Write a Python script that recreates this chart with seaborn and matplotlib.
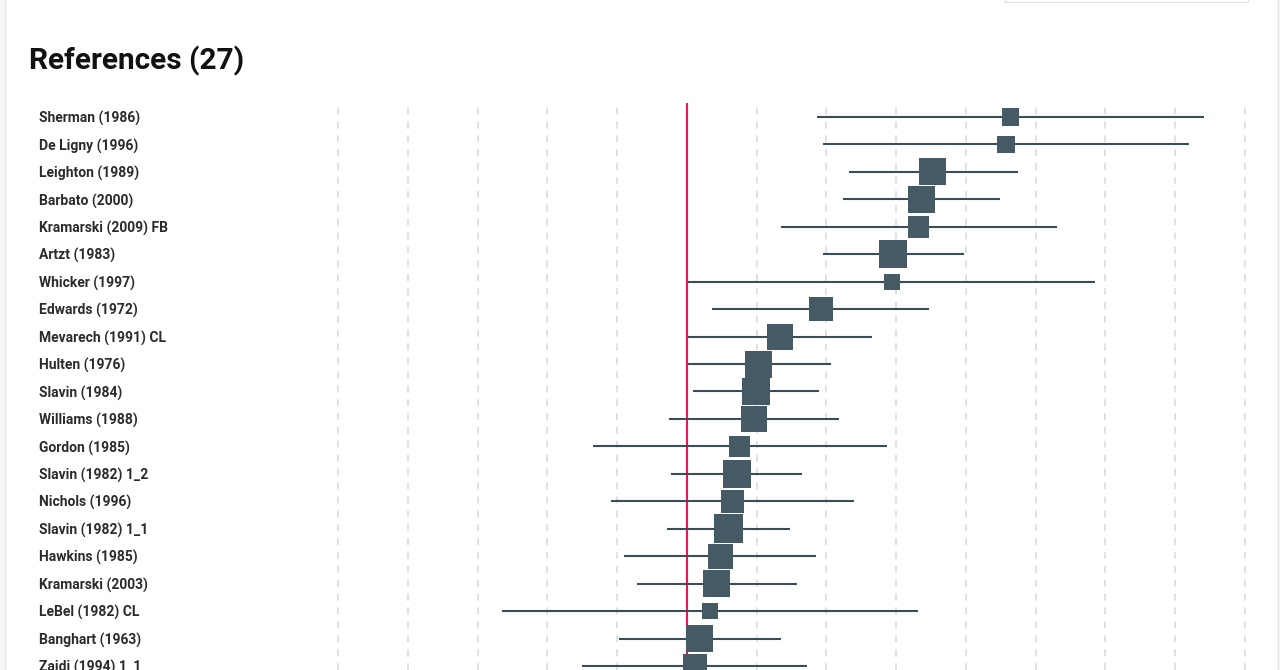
import matplotlib
matplotlib.use("Agg")
import matplotlib.pyplot as plt
import seaborn as sns
import pandas as pd
from matplotlib.patches import Rectangle

# Forest plot data (effect size with confidence interval, study weight)
studies = [
    "Sherman (1986)", "De Ligny (1996)", "Leighton (1989)", "Barbato (2000)",
    "Kramarski (2009) FB", "Artzt (1983)", "Whicker (1997)", "Edwards (1972)",
    "Mevarech (1991) CL", "Hulten (1976)", "Slavin (1984)", "Williams (1988)",
    "Gordon (1985)", "Slavin (1982) 1_2", "Nichols (1996)", "Slavin (1982) 1_1",
    "Hawkins (1985)", "Kramarski (2003)", "LeBel (1982) CL", "Banghart (1963)",
    "Zaidi (1994) 1_1",
]
effect = [0.928, 0.915, 0.705, 0.672, 0.664, 0.591, 0.588, 0.384, 0.267, 0.205,
          0.198, 0.192, 0.151, 0.143, 0.130, 0.119, 0.096, 0.085, 0.066, 0.036, 0.023]
ci_low = [0.373, 0.390, 0.465, 0.447, 0.270, 0.390, 0.003, 0.072, 0.003, 0.003,
          0.017, -0.052, -0.270, -0.046, -0.218, -0.057, -0.181, -0.143, -0.530, -0.195, -0.301]
ci_high = [1.482, 1.439, 0.949, 0.897, 1.061, 0.794, 1.170, 0.694, 0.530, 0.413,
           0.378, 0.436, 0.573, 0.330, 0.479, 0.295, 0.370, 0.315, 0.662, 0.270, 0.344]
weight = [2.9, 3.2, 7.3, 7.3, 4.6, 7.8, 2.6, 5.8, 6.8, 7.3,
          7.8, 6.8, 4.4, 7.8, 5.3, 8.4, 6.3, 7.3, 2.6, 7.3, 5.8]
grid_ticks = [-1.0, -0.8, -0.6, -0.4, -0.2, 0.0, 0.2, 0.4, 0.6, 0.8, 1.0, 1.2, 1.4, 1.6]

df = pd.DataFrame({"study": studies, "effect": effect, "ci_low": ci_low,
                   "ci_high": ci_high, "weight": weight})
df["row"] = range(len(df))

sns.set_theme(style="white")
plt.rcParams["font.family"] = ["Roboto", "DejaVu Sans"]
plt.rcParams["lines.scale_dashes"] = False

fig = plt.figure(figsize=(12.8, 6.7), dpi=100, facecolor="#f7f7f7")

# white card with a faint border
fig.patches.append(Rectangle((5 / 1280, -0.1), 1273 / 1280, 1.2, transform=fig.transFigure,
                             facecolor="white", edgecolor="#e4e4e4", lw=1, zorder=-10))
# bottom edge of a floating element at the top right
fig.patches.append(Rectangle((1005 / 1280, 1 - 2 / 670), 243 / 1280, 0.1, transform=fig.transFigure,
                             facecolor="white", edgecolor="#e0e0e0", lw=0.8, zorder=-9))

ax = fig.add_axes([320 / 1280, 0, 940 / 1280, 567 / 670])
ax.set_facecolor("none")
ax.set_zorder(5)

for x in grid_ticks:
    if x != 0:
        ax.axvline(x, color="#d6dadd", lw=1.1, ls=(0, (5, 5)), zorder=0)
ax.axvline(0, color="#ec1652", lw=1.5, zorder=1)

ax.hlines(df["row"], df["ci_low"], df["ci_high"], color="#3b4d56", lw=1.5, zorder=2)
sns.scatterplot(data=df, x="effect", y="row", size="weight", sizes=(0, 518.4),
                size_norm=(0, 10), marker="s", color="#455a64", linewidth=0,
                alpha=1, legend=False, ax=ax, zorder=3)

ax.set_xlim(-1.0516, 1.643)
ax.set_ylim(20.146, -0.51)
ax.set_xticks([])
ax.set_xlabel("")
ax.set_ylabel("")
ax.set_yticks(df["row"])
ax.set_yticklabels(df["study"], ha="left", fontsize=10, fontweight="semibold", color="#2b2b2b")
ax.tick_params(axis="y", length=0, pad=202.3)
for s in ax.spines.values():
    s.set_visible(False)

fig.text(29 / 1280, 1 - 61 / 670, "References (27)", fontsize=21.4, fontweight="bold",
         va="center", ha="left", color="#111111")

fig.savefig("out.png", dpi=100, facecolor=fig.get_facecolor())
